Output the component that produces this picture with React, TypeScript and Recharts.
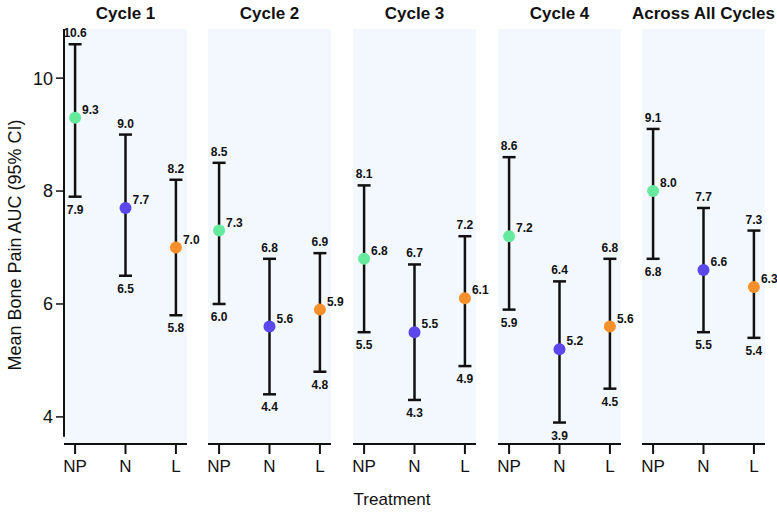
import React from "react"
import {
  ScatterChart,
  Scatter,
  XAxis,
  YAxis,
  ErrorBar,
  Cell,
  LabelList,
  ReferenceArea,
  ReferenceLine,
} from "recharts"

const panelTitles = ["Cycle 1", "Cycle 2", "Cycle 3", "Cycle 4", "Across All Cycles"]
const treatments = ["NP", "N", "L"]
const treatmentColors = ["#66EA9E", "#5B47EC", "#F7902A"]

// mean, lower and upper 95% CI per panel (NP, N, L)
const means = [
  [9.3, 7.7, 7.0],
  [7.3, 5.6, 5.9],
  [6.8, 5.5, 6.1],
  [7.2, 5.2, 5.6],
  [8.0, 6.6, 6.3],
]
const lowers = [
  [7.9, 6.5, 5.8],
  [6.0, 4.4, 4.8],
  [5.5, 4.3, 4.9],
  [5.9, 3.9, 4.5],
  [6.8, 5.5, 5.4],
]
const uppers = [
  [10.6, 9.0, 8.2],
  [8.5, 6.8, 6.9],
  [8.1, 6.7, 7.2],
  [8.6, 6.4, 6.8],
  [9.1, 7.7, 7.3],
]
const yTicks = [4, 6, 8, 10]

const Y_MIN = 3.52
const Y_MAX = 10.87
const X_MIN = -0.22
const X_MAX = 2.22
const panelLefts = [64, 208, 353, 498, 642]
const PLOT_W = 123
const RIGHT_PAD = 30
const FONT = "'Liberation Sans', Arial, Helvetica, sans-serif"
const BG = "#F3F8FE"

const fmt = (v: number) => v.toFixed(1)

function MeanLabel(props: any) {
  const { x, y, width, height, value } = props
  const cx = x + width / 2
  const cy = y + height / 2
  return (
    <text x={cx + 7} y={cy - 4} fontSize={12} fontWeight="bold" fontFamily={FONT} fill="#111">
      {fmt(value)}
    </text>
  )
}

function UpperLabel(props: any) {
  const { x, y, width, height, value } = props
  return (
    <text x={x + width / 2} y={y + height / 2 - 7} textAnchor="middle" fontSize={12} fontWeight="bold" fontFamily={FONT} fill="#111">
      {fmt(value)}
    </text>
  )
}

function LowerLabel(props: any) {
  const { x, y, width, height, value } = props
  return (
    <text x={x + width / 2} y={y + height / 2 + 17} textAnchor="middle" fontSize={12} fontWeight="bold" fontFamily={FONT} fill="#111">
      {fmt(value)}
    </text>
  )
}

function Dot(props: any) {
  const { cx, cy, fill } = props
  return <circle cx={cx} cy={cy} r={6} fill={fill} />
}

function Panel({ index }: { index: number }) {
  const first = index === 0
  const data = treatments.map((t, i) => ({
    x: i,
    name: t,
    mean: means[index][i],
    lower: lowers[index][i],
    upper: uppers[index][i],
    err: [means[index][i] - lowers[index][i], uppers[index][i] - means[index][i]],
  }))
  const width = 64 + PLOT_W + RIGHT_PAD
  return (
    <div style={{ position: "absolute", left: panelLefts[index] - 64, top: 0 }}>
      <ScatterChart
        width={width}
        height={516}
        margin={{ top: 29, right: RIGHT_PAD, bottom: 32, left: first ? 0 : 64 }}
      >
        <XAxis
          type="number"
          dataKey="x"
          domain={[X_MIN, X_MAX]}
          ticks={[0, 1, 2]}
          allowDataOverflow
          tickFormatter={(v: number) => treatments[v]}
          height={40}
          axisLine={{ stroke: "#111", strokeWidth: 2 }}
          tickLine={{ stroke: "#111", strokeWidth: 2 }}
          tickSize={10}
          tickMargin={6}
          tick={{ fill: "#111", fontSize: 17, fontFamily: FONT }}
        />
        <YAxis
          type="number"
          dataKey="mean"
          domain={[Y_MIN, Y_MAX]}
          allowDataOverflow
          ticks={yTicks}
          hide={!first}
          width={64}
          axisLine={false}
          tickLine={{ stroke: "#111", strokeWidth: 1.5 }}
          tickSize={8}
          tickMargin={3}
          tick={{ fill: "#111", fontSize: 18, fontFamily: FONT }}
        />
        <ReferenceArea x1={X_MIN} x2={X_MAX} y1={Y_MIN} y2={Y_MAX} fill={BG} fillOpacity={1} stroke="none" />
        {first && (
          <ReferenceLine
            segment={[
              { x: X_MIN, y: 3.65 },
              { x: X_MIN, y: Y_MAX },
            ]}
            stroke="#111"
            strokeWidth={2}
          />
        )}
        <Scatter data={data.map((d) => ({ x: d.x, mean: d.upper }))} isAnimationActive={false} shape={() => <g />}>
          <LabelList dataKey="mean" content={UpperLabel} />
        </Scatter>
        <Scatter data={data.map((d) => ({ x: d.x, mean: d.lower }))} isAnimationActive={false} shape={() => <g />}>
          <LabelList dataKey="mean" content={LowerLabel} />
        </Scatter>
        <Scatter data={data} dataKey="mean" isAnimationActive={false} shape={Dot}>
          <ErrorBar dataKey="err" direction="y" width={6.5} stroke="#111" strokeWidth={2.5} isAnimationActive={false} />
          {data.map((d, i) => (
            <Cell key={d.name} fill={treatmentColors[i]} />
          ))}
          <LabelList dataKey="mean" content={MeanLabel} />
        </Scatter>
      </ScatterChart>
      <div
        style={{
          position: "absolute",
          left: 64 + PLOT_W / 2,
          top: 14,
          transform: "translate(-50%, -50%)",
          whiteSpace: "nowrap",
          fontFamily: FONT,
          fontWeight: "bold",
          fontSize: 17,
          color: "#111",
        }}
      >
        {panelTitles[index]}
      </div>
    </div>
  )
}

export default function App() {
  return (
    <div style={{ position: "absolute", left: 0, top: 0, width: 777, height: 516, background: "#fff", overflow: "hidden" }}>
      {panelTitles.map((_, i) => (
        <Panel key={i} index={i} />
      ))}
      <div
        style={{
          position: "absolute",
          left: 15,
          top: 245,
          transform: "translate(-50%, -50%) rotate(-90deg)",
          whiteSpace: "nowrap",
          fontFamily: FONT,
          fontSize: 18,
          color: "#111",
        }}
      >
        Mean Bone Pain AUC (95% CI)
      </div>
      <div
        style={{
          position: "absolute",
          left: 392,
          top: 500,
          transform: "translate(-50%, -50%)",
          whiteSpace: "nowrap",
          fontFamily: FONT,
          fontSize: 17,
          color: "#111",
        }}
      >
        Treatment
      </div>
    </div>
  )
}
